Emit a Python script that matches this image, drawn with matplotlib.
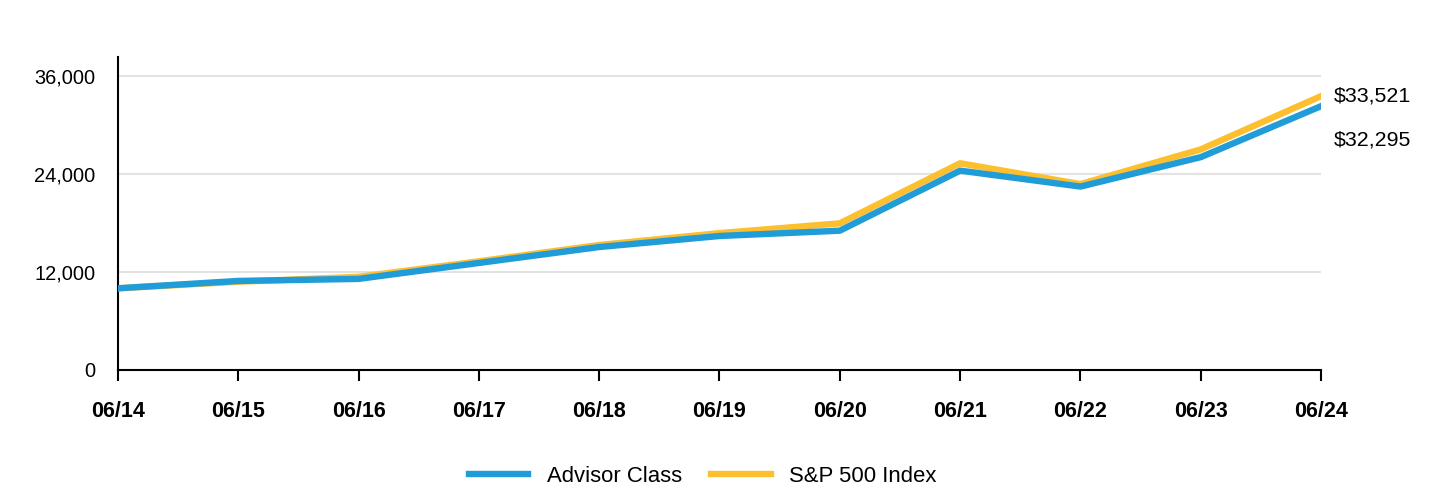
import matplotlib.pyplot as plt
from matplotlib.ticker import FuncFormatter

plt.rcParams['font.family'] = ['Liberation Sans', 'DejaVu Sans']

years = ['06/14', '06/15', '06/16', '06/17', '06/18', '06/19',
         '06/20', '06/21', '06/22', '06/23', '06/24']
advisor = [10000, 10900, 11150, 13100, 15050, 16400,
           17050, 24400, 22450, 26050, 32295]
sp500 = [10000, 10800, 11400, 13300, 15300, 16750,
         17950, 25300, 22750, 27000, 33521]

blue = '#209cd8'
gold = '#fdbf2d'

fig = plt.figure(figsize=(14.4, 4.92), dpi=100)
ax = fig.add_axes([0.0819, 0.248, 0.8355, 0.636])

x = list(range(len(years)))
ax.plot(x, sp500, color=gold, lw=4.6, label='S&P 500 Index', zorder=3)
ax.plot(x, advisor, color=blue, lw=4.6, label='Advisor Class', zorder=4)

ax.set_xlim(0, len(years) - 1)
ax.set_ylim(0, 38300)
ax.set_yticks([0, 12000, 24000, 36000])
ax.yaxis.set_major_formatter(FuncFormatter(lambda v, p: '{:,.0f}'.format(v)))
ax.set_xticks(x)
ax.set_xticklabels(years, fontweight='bold')
ax.tick_params(axis='x', length=8, width=1.5, pad=14, labelsize=15.5)
ax.tick_params(axis='y', length=0, pad=16, labelsize=14.4)

for yv in [12000, 24000, 36000]:
    ax.axhline(yv, color='#e3e3e3', lw=1.5, zorder=1)

for side in ['top', 'right']:
    ax.spines[side].set_visible(False)
ax.spines['left'].set_linewidth(1.5)
ax.spines['bottom'].set_linewidth(1.5)

ax.annotate('${:,}'.format(sp500[-1]), xy=(x[-1], sp500[-1]), xytext=(9.4, 0),
            textcoords='offset points', fontsize=15.4, va='center')
ax.annotate('${:,}'.format(advisor[-1]), xy=(x[-1], advisor[-1]), xytext=(9.4, -24.5),
            textcoords='offset points', fontsize=15.4, va='center')

handles, labels = ax.get_legend_handles_labels()
fig.legend(handles[::-1], labels[::-1], loc='center', bbox_to_anchor=(0.488, 0.032),
           ncol=2, frameon=False, fontsize=15.9, handlelength=2.7, columnspacing=1.3,
           handletextpad=0.85)

fig.savefig('out.png', dpi=100)
